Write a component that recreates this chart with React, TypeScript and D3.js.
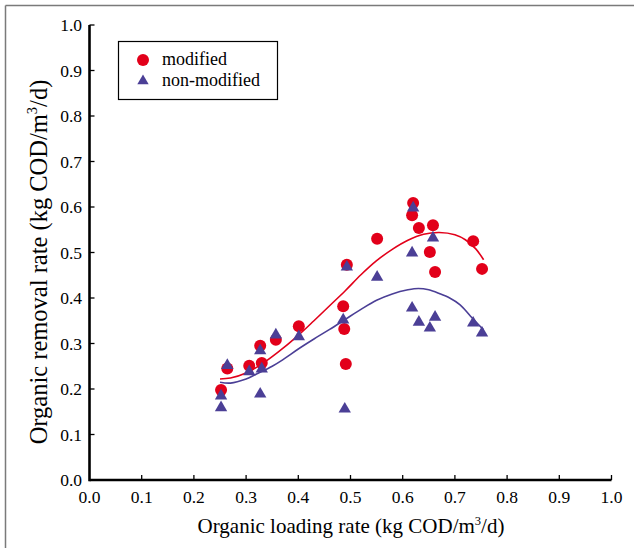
import React from "react";
import * as d3 from "d3";

const modifiedX = [0.252, 0.264, 0.306, 0.327, 0.33, 0.357, 0.401, 0.486, 0.488, 0.491, 0.493, 0.551, 0.62, 0.618, 0.631, 0.658, 0.652, 0.662, 0.735, 0.752];
const modifiedY = [0.198, 0.245, 0.251, 0.295, 0.257, 0.308, 0.338, 0.382, 0.332, 0.255, 0.473, 0.53, 0.609, 0.582, 0.554, 0.56, 0.501, 0.457, 0.525, 0.464];

const nonModX = [0.252, 0.252, 0.264, 0.306, 0.327, 0.33, 0.327, 0.357, 0.401, 0.486, 0.489, 0.493, 0.551, 0.618, 0.62, 0.658, 0.618, 0.631, 0.652, 0.662, 0.735, 0.752];
const nonModY = [0.185, 0.159, 0.252, 0.238, 0.284, 0.244, 0.189, 0.319, 0.315, 0.352, 0.156, 0.468, 0.446, 0.499, 0.598, 0.532, 0.378, 0.347, 0.334, 0.358, 0.345, 0.323];

const fitModX = [0.25, 0.27, 0.30, 0.33, 0.36, 0.40, 0.43, 0.46, 0.49, 0.52, 0.55, 0.58, 0.61, 0.64, 0.67, 0.70, 0.72, 0.74, 0.755];
const fitModY = [0.222, 0.224, 0.235, 0.255, 0.28, 0.318, 0.35, 0.383, 0.416, 0.451, 0.482, 0.507, 0.527, 0.54, 0.544, 0.539, 0.528, 0.508, 0.484];

const fitNonX = [0.25, 0.27, 0.30, 0.32, 0.35, 0.37, 0.40, 0.43, 0.46, 0.49, 0.52, 0.55, 0.58, 0.61, 0.63, 0.65, 0.67, 0.69, 0.71, 0.73, 0.755];
const fitNonY = [0.215, 0.213, 0.222, 0.233, 0.25, 0.264, 0.288, 0.31, 0.331, 0.353, 0.375, 0.395, 0.409, 0.418, 0.421, 0.418, 0.41, 0.4, 0.385, 0.36, 0.33];

const tickValues = [0, 0.1, 0.2, 0.3, 0.4, 0.5, 0.6, 0.7, 0.8, 0.9, 1.0];
const seriesNames = ["modified", "non-modified"];

const RED = "#e2001a";
const BLUE = "#4b3f96";
const FONT = "'Liberation Serif', 'Times New Roman', serif";

export default function App() {
  const W = 634, H = 548;
  const x = d3.scaleLinear().domain([0, 1]).range([89.5, 611.5]);
  const y = d3.scaleLinear().domain([0, 1]).range([480, 25]);

  const line = d3.line<[number, number]>().x(d => x(d[0])).y(d => y(d[1])).curve(d3.curveCatmullRom);
  const modLine = line(fitModX.map((v, i) => [v, fitModY[i]] as [number, number]));
  const nonLine = line(fitNonX.map((v, i) => [v, fitNonY[i]] as [number, number]));
  const tri = d3.symbol().type(d3.symbolTriangle).size(66)();
  const triLeg = d3.symbol().type(d3.symbolTriangle).size(56)();

  return (
    <svg width={W} height={H} style={{ position: "absolute", left: 0, top: 0, background: "#fff" }} fontFamily={FONT}>
      <rect x={0} y={0} width={W} height={H} fill="#fff" />
      {/* outer frame */}
      <line x1={5.5} y1={5.5} x2={W} y2={5.5} stroke="#7a7a7a" strokeWidth={1.5} />
      <line x1={5.5} y1={5.5} x2={5.5} y2={H} stroke="#7a7a7a" strokeWidth={1.5} />

      {/* fit lines */}
      <path d={modLine || ""} fill="none" stroke={RED} strokeWidth={1.6} />
      <path d={nonLine || ""} fill="none" stroke={BLUE} strokeWidth={1.6} />

      {/* points */}
      {modifiedX.map((v, i) => (
        <circle key={"m" + i} cx={x(v)} cy={y(modifiedY[i])} r={6} fill={RED} />
      ))}
      {nonModX.map((v, i) => (
        <path key={"n" + i} d={tri || ""} transform={`translate(${x(v)},${y(nonModY[i])})`} fill={BLUE} />
      ))}

      {/* axes */}
      <line x1={x(0)} y1={y(0)} x2={x(1)} y2={y(0)} stroke="#000" strokeWidth={2.6} />
      <line x1={x(0)} y1={y(0) + 1.3} x2={x(0)} y2={y(1)} stroke="#000" strokeWidth={2.6} />
      {tickValues.map((t, i) => (
        <g key={"xt" + i}>
          {i > 0 && <line x1={x(t)} x2={x(t)} y1={y(0)} y2={y(0) - 5} stroke="#000" strokeWidth={1.3} />}
          <text x={x(t)} y={503} textAnchor="middle" fontSize={17.5} fill="#000">{t.toFixed(1)}</text>
        </g>
      ))}
      {tickValues.map((t, i) => (
        <g key={"yt" + i}>
          {i > 0 && <line x1={x(0)} x2={x(0) + 5} y1={y(t)} y2={y(t)} stroke="#000" strokeWidth={1.3} />}
          <text x={82} y={y(t) + 6} textAnchor="end" fontSize={17.5} fill="#000">{t.toFixed(1)}</text>
        </g>
      ))}

      {/* axis titles */}
      <text x={351} y={533} textAnchor="middle" fontSize={21} fill="#000">
        Organic loading rate (kg COD/m<tspan fontSize={12.5} dy={-8}>3</tspan><tspan dy={8}>/d)</tspan>
      </text>
      <text transform={`translate(47,262) rotate(-90)`} textAnchor="middle" fontSize={24.5} fill="#000">
        Organic removal rate (kg COD/m<tspan fontSize={14.5} dy={-10}>3</tspan><tspan dy={10}>/d)</tspan>
      </text>

      {/* legend */}
      <rect x={118.5} y={41.5} width={159} height={58} fill="#fff" stroke="#000" strokeWidth={1.2} />
      <circle cx={143} cy={60} r={6} fill={RED} />
      <path d={triLeg || ""} transform="translate(143,81)" fill={BLUE} />
      <text x={162} y={65} fontSize={18} fill="#000">{seriesNames[0]}</text>
      <text x={162} y={86} fontSize={18} fill="#000">{seriesNames[1]}</text>
    </svg>
  );
}
